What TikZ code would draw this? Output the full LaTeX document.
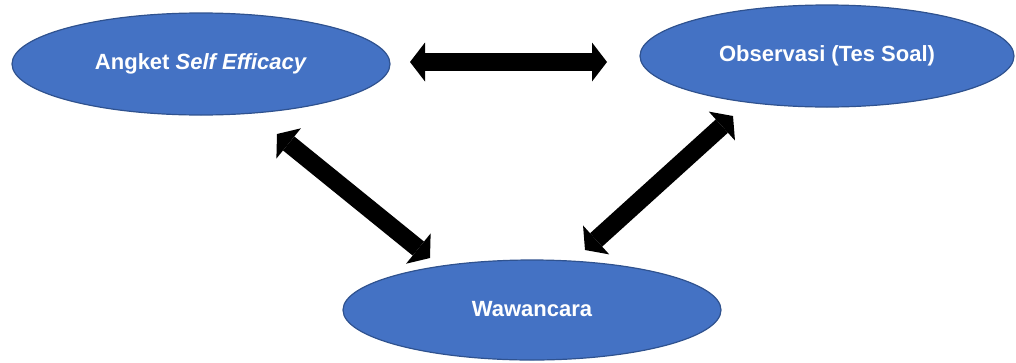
\documentclass[tikz,border=0pt]{standalone}
\usepackage{fontspec}
\setmainfont{Liberation Sans}
\usetikzlibrary{shapes.geometric,arrows.meta}
\definecolor{ellfill}{HTML}{4472C4}
\definecolor{elldraw}{HTML}{2F528F}
\begin{document}
\begin{tikzpicture}[x=1pt,y=-1pt,
  oval/.style={ellipse, draw=elldraw, line width=1.2pt, fill=ellfill, inner sep=0pt,
    text=white, font=\fontsize{22}{26}\selectfont\bfseries},
  bigarrow/.style={line width=18pt, black,
    {Triangle[width=39pt,length=15pt,line width=0pt]}-{Triangle[width=39pt,length=15pt,line width=0pt]}}]
\useasboundingbox (0,0) rectangle (1016,362);
\node[oval, minimum width=378pt, minimum height=102pt] (ang) at (201,64) {\raisebox{3pt}{Angket \textit{Self Efficacy}}};
\node[oval, minimum width=374pt, minimum height=102pt] (obs) at (827,56) {\raisebox{3pt}{Observasi (Tes Soal)}};
\node[oval, minimum width=378pt, minimum height=100pt] (waw) at (532,310) {\raisebox{3pt}{Wawancara}};
\coordinate (h1) at (410,62);
\coordinate (h2) at (607,62);
\coordinate (l1) at (277,134);
\coordinate (l2) at (430,258);
\coordinate (r1) at (733,116);
\coordinate (r2) at (585,250);
\draw[bigarrow] (h1) -- (h2);
\draw[bigarrow] (l1) -- (l2);
\draw[bigarrow] (r1) -- (r2);
\end{tikzpicture}
\end{document}
